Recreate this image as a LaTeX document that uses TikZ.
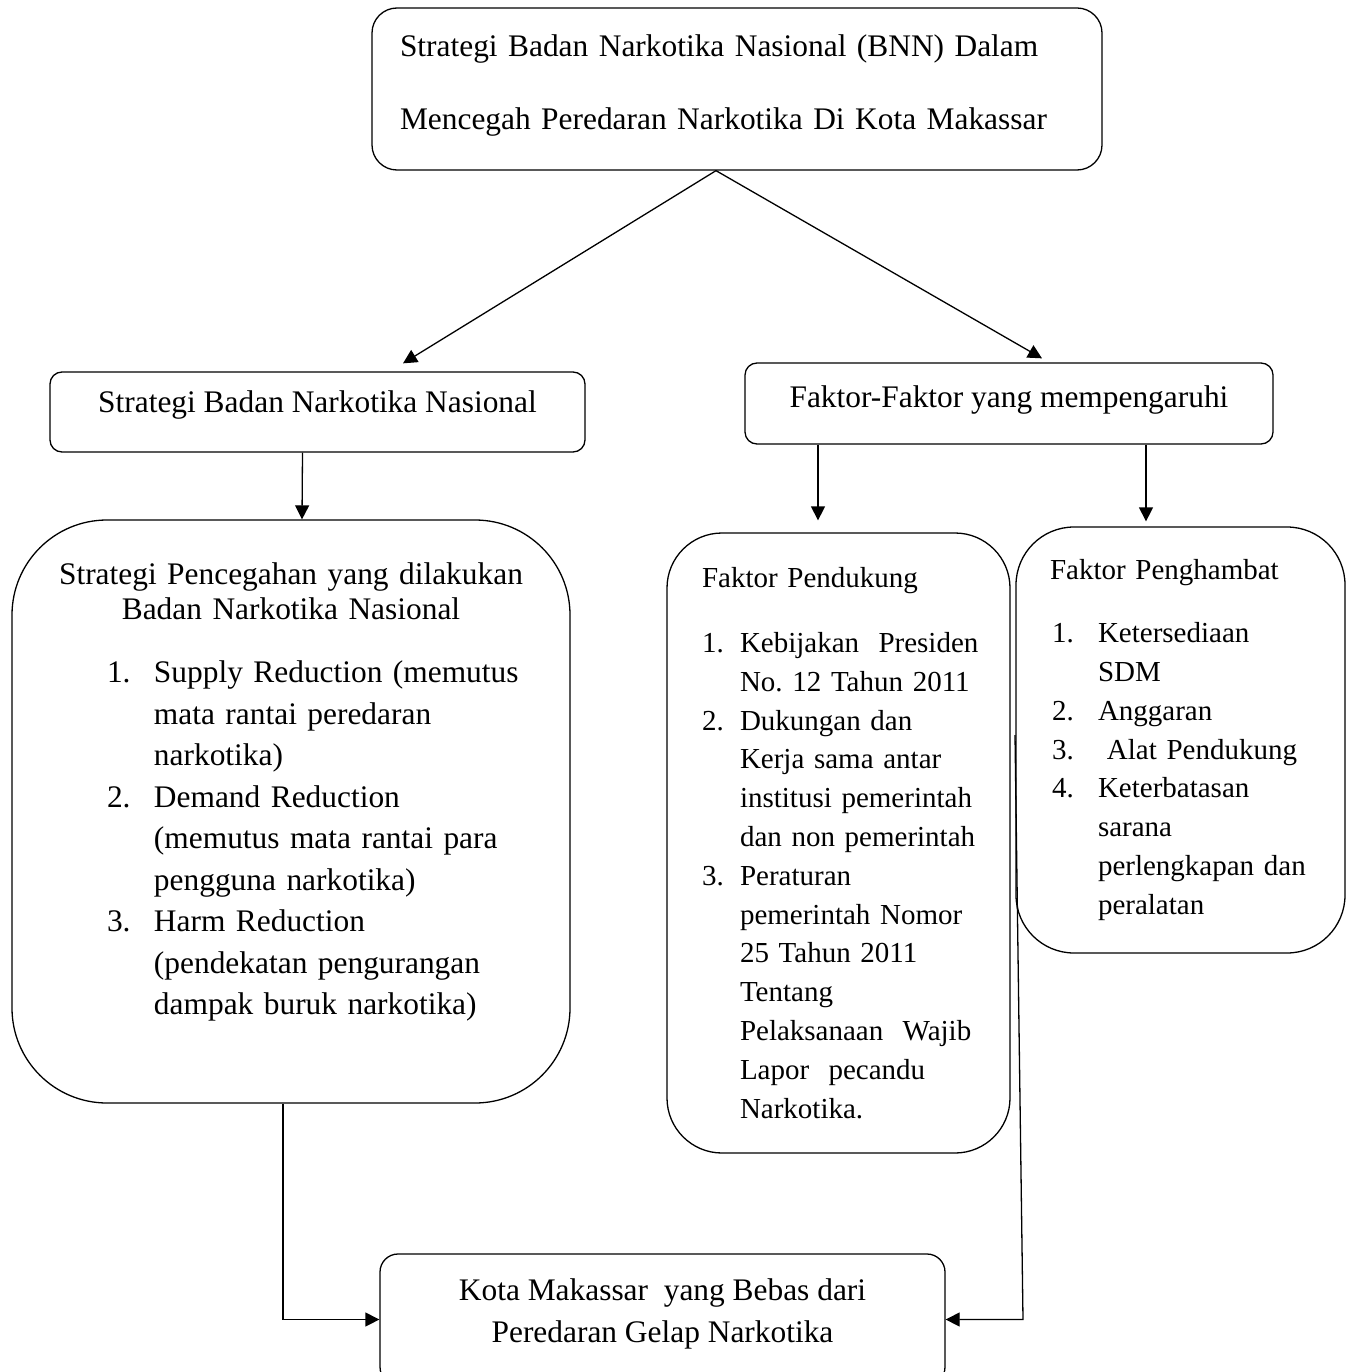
\documentclass[tikz,border=0pt]{standalone}
\usepackage{fontspec}
\setmainfont{Liberation Serif}
\usetikzlibrary{arrows.meta,positioning,calc}
\frenchspacing

\begin{document}
\begin{tikzpicture}[x=1pt,y=-1pt,>={Triangle[length=14pt,width=14pt]},line width=1.3pt]
\tikzstyle{box}=[draw, rounded corners=12pt, align=center, inner sep=0pt, font=\fontsize{31.4pt}{42pt}\selectfont]
\tikzstyle{bigbox}=[draw, rounded corners=55pt, align=left, inner sep=0pt, font=\fontsize{29pt}{38.8pt}\selectfont]
\useasboundingbox (0,0) rectangle (1348,1372);
% judul utama
\node[box, rounded corners=25pt, minimum width=730pt, minimum height=162pt, text width=674pt, align=left, font=\fontsize{31.4pt}{73pt}\selectfont] (judul) at (737,89) {Strategi Badan Narkotika Nasional (BNN) Dalam\\ Mencegah Peredaran Narkotika Di Kota Makassar\rule[-14pt]{0pt}{14pt}};
\node[box, minimum width=535pt, minimum height=80pt, text depth=20pt] (strat) at (317.5,412) {Strategi Badan Narkotika Nasional};
\node[box, minimum width=528pt, minimum height=81pt, text depth=13pt] (faktor) at (1009,403.5) {Faktor-Faktor yang mempengaruhi};
% strategi pencegahan
\node[box, rounded corners=95pt, minimum width=558pt, minimum height=583pt, text width=558pt, font=\fontsize{31.4pt}{41.5pt}\selectfont] (cegah) at (291,811.5) {Strategi Pencegahan yang dilakukan\\[-6.5pt]
Badan Narkotika Nasional\\[21.5pt]
\makebox[558pt][l]{\hspace*{95pt}\makebox[47pt][l]{1.}Supply Reduction (memutus}\\
\makebox[558pt][l]{\hspace*{142pt}mata rantai peredaran}\\
\makebox[558pt][l]{\hspace*{142pt}narkotika)}\\
\makebox[558pt][l]{\hspace*{95pt}\makebox[47pt][l]{2.}Demand Reduction}\\
\makebox[558pt][l]{\hspace*{142pt}(memutus mata rantai para}\\
\makebox[558pt][l]{\hspace*{142pt}pengguna narkotika)}\\
\makebox[558pt][l]{\hspace*{95pt}\makebox[47pt][l]{3.}Harm Reduction}\\
\makebox[558pt][l]{\hspace*{142pt}(pendekatan pengurangan}\\
\makebox[558pt][l]{\hspace*{142pt}dampak buruk narkotika)}\rule[-45pt]{0pt}{45pt}};
% faktor pendukung dan penghambat
\node[bigbox, minimum width=343pt, minimum height=620pt, text width=343pt] (pendukung) at (838.5,843) {\hspace*{35pt}Faktor Pendukung\\[26.2pt]
\hspace*{35pt}\makebox[38pt][l]{1.}Kebijakan~~Presiden\\
\hspace*{73pt}No. 12 Tahun 2011\\
\hspace*{35pt}\makebox[38pt][l]{2.}Dukungan dan\\
\hspace*{73pt}Kerja sama antar\\
\hspace*{73pt}institusi pemerintah\\
\hspace*{73pt}dan non pemerintah\\
\hspace*{35pt}\makebox[38pt][l]{3.}Peraturan\\
\hspace*{73pt}pemerintah Nomor\\
\hspace*{73pt}25 Tahun 2011\\
\hspace*{73pt}Tentang\\
\hspace*{73pt}Pelaksanaan~~Wajib\\
\hspace*{73pt}Lapor~~pecandu\\
\hspace*{73pt}Narkotika.};
\node[bigbox, rounded corners=58pt, minimum width=329pt, minimum height=426pt, text width=329pt] (penghambat) at (1180.5,740) {\hspace*{34pt}Faktor Penghambat\\[24.1pt]
\hspace*{36pt}\makebox[46pt][l]{1.}Ketersediaan\\
\hspace*{82pt}SDM\\
\hspace*{36pt}\makebox[46pt][l]{2.}Anggaran\\
\hspace*{36pt}\makebox[46pt][l]{3.}\hspace*{9pt}Alat Pendukung\\
\hspace*{36pt}\makebox[46pt][l]{4.}Keterbatasan\\
\hspace*{82pt}sarana\\
\hspace*{82pt}perlengkapan dan\\
\hspace*{82pt}peralatan};
% tujuan akhir
\node[box, rounded corners=18pt, minimum width=565pt, minimum height=131pt] (tujuan) at (662.5,1319.5) {Kota Makassar~~yang Bebas dari\\ Peredaran Gelap Narkotika\rule[-17pt]{0pt}{17pt}};
\coordinate (sambung) at (1015,735);
\coordinate (belok) at (1023,1319.5);
\draw[->] ([xshift=-21pt]judul.south) -- ([xshift=85.5pt,yshift=8pt]strat.north);
\draw[->] ([xshift=-21pt]judul.south) -- ([xshift=33pt,yshift=4pt]faktor.north);
\draw[->] ([xshift=-15pt]strat.south) -- ([xshift=11pt]cegah.north);
\draw[->] ([xshift=-191pt]faktor.south) -- ([xshift=-20.5pt,yshift=12pt]pendukung.north);
\draw[->] ([xshift=137pt]faktor.south) -- ([xshift=-34.5pt,yshift=5pt]penghambat.north);
\draw[->] ([xshift=-8pt]cegah.south) |- (tujuan.west);
\draw[->] (sambung) -- (belok) -- (tujuan.east);
\end{tikzpicture}
\end{document}
